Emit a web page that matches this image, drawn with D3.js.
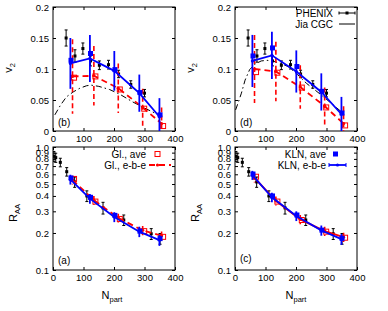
<!DOCTYPE html>
<html>
<head>
<meta charset="utf-8">
<script src="https://cdn.jsdelivr.net/npm/d3@7"></script>
<style>
body { margin: 0; background: #fff; }
text { font-family: "Liberation Sans", Arial, sans-serif; }
</style>
</head>
<body>
<svg id="chart" width="388" height="311"></svg>
<script>
// tick labels
var npartTicks = [0, 100, 200, 300, 400]
var v2Ticks = [0, 0.05, 0.1, 0.15, 0.2]
var raaTicks = [0.1, 0.2, 0.3, 0.4, 0.5, 0.6, 0.7, 0.8, 0.9, 1.0]

// PHENIX data
var phenixV2Npart = [43, 72, 98, 123, 152, 182, 215, 255, 300]
var phenixV2 = [0.150, 0.121, 0.133, 0.113, 0.106, 0.107, 0.092, 0.075, 0.061]
var phenixV2Err = [0.013, 0.010, 0.009, 0.008, 0.007, 0.007, 0.006, 0.006, 0.006]
var phenixRaaNpart = [3, 9, 24, 45, 71, 111, 164, 232, 322, 351]
var phenixRaa = [0.84, 0.82, 0.75, 0.63, 0.52, 0.40, 0.32, 0.255, 0.197, 0.18]
var phenixRaaErr = [0.08, 0.07, 0.06, 0.05, 0.05, 0.04, 0.035, 0.025, 0.02, 0.018]

// model centralities
var glNpart = [64, 134, 214, 294, 356]
var klnNpart = [57, 121, 201, 283, 349]

// panel (b)
var glEbeV2B = [0.088, 0.089, 0.069, 0.038, 0.012]
var glAveV2B = [0.086, 0.088, 0.067, 0.036, 0.008]
var glErrV2B = [0.06, 0.048, 0.04, 0.03, 0.026]
var klnEbeV2B = [0.109, 0.117, 0.097, 0.061, 0.023]
var klnAveV2B = [0.114, 0.125, 0.099, 0.062, 0.026]
var klnErrV2B = [0.041, 0.038, 0.032, 0.03, 0.03]
var jiaNpartB = [6, 25, 44, 66, 88, 110, 125, 150, 185, 220, 261, 300, 351]
var jiaV2B = [0.026, 0.042, 0.055, 0.063, 0.069, 0.073, 0.074, 0.072, 0.067, 0.059, 0.047, 0.037, 0.025]

// panel (d)
var glEbeV2D = [0.100, 0.096, 0.071, 0.040, 0.012]
var glAveV2D = [0.095, 0.094, 0.070, 0.038, 0.009]
var glErrV2D = [0.055, 0.048, 0.035, 0.03, 0.028]
var klnEbeV2D = [0.113, 0.122, 0.096, 0.063, 0.027]
var klnAveV2D = [0.121, 0.134, 0.104, 0.064, 0.029]
var klnErrV2D = [0.042, 0.038, 0.034, 0.03, 0.028]
var jiaNpartD = [2, 12, 21, 33, 48, 66, 86, 105, 122, 150, 174, 205, 234, 260, 283, 320, 351]
var jiaV2D = [0.034, 0.048, 0.061, 0.082, 0.099, 0.108, 0.113, 0.114, 0.113, 0.109, 0.104, 0.091, 0.077, 0.067, 0.058, 0.043, 0.030]

// panel (a)
var glEbeRaaA = [0.54, 0.37, 0.265, 0.21, 0.19]
var glAveRaaA = [0.55, 0.36, 0.26, 0.207, 0.186]
var glErrRaaA = [0.045, 0.03, 0.022, 0.018, 0.016]
var klnEbeRaaA = [0.545, 0.38, 0.27, 0.205, 0.175]
var klnAveRaaA = [0.56, 0.39, 0.278, 0.207, 0.18]
var klnErrRaaA = [0.05, 0.035, 0.025, 0.02, 0.018]

// panel (c)
var glEbeRaaC = [0.56, 0.365, 0.258, 0.207, 0.185]
var glAveRaaC = [0.573, 0.36, 0.255, 0.205, 0.183]
var glErrRaaC = [0.045, 0.03, 0.022, 0.018, 0.016]
var klnEbeRaaC = [0.59, 0.39, 0.275, 0.21, 0.178]
var klnAveRaaC = [0.603, 0.40, 0.28, 0.211, 0.181]
var klnErrRaaC = [0.05, 0.035, 0.025, 0.02, 0.018]

var red = "#ff0000", blue = "#0000ff"
var svg = d3.select("#chart")

function makePanel(xr, yr, logY) {
    var x = d3.scaleLinear().domain([0, 400]).range(xr)
    var y = logY ? d3.scaleLog().domain([0.1, 1]).range(yr)
                 : d3.scaleLinear().domain([0, 0.2]).range(yr)
    var g = svg.append("g")
    var ticksY = logY ? raaTicks : v2Ticks
    var fmtY = logY ? d3.format(".1f") : function(d) { return d3.format("")(d) }

    g.append("g").attr("transform", "translate(0," + yr[0] + ")")
        .call(d3.axisBottom(x).tickValues(npartTicks).tickSizeInner(-3).tickSizeOuter(0).tickPadding(4))
    g.append("g").attr("transform", "translate(0," + yr[1] + ")")
        .call(d3.axisTop(x).tickValues(npartTicks).tickSizeInner(-3).tickSizeOuter(0).tickFormat(""))
    g.append("g").attr("transform", "translate(" + xr[0] + ",0)")
        .call(d3.axisLeft(y).tickValues(ticksY).tickFormat(fmtY).tickSizeInner(-3).tickSizeOuter(0).tickPadding(4))
    g.append("g").attr("transform", "translate(" + xr[1] + ",0)")
        .call(d3.axisRight(y).tickValues(ticksY).tickSizeInner(-3).tickSizeOuter(0).tickFormat(""))
    g.selectAll(".domain").remove()
    g.selectAll("text").attr("font-size", 9.5).attr("font-family", "Liberation Sans, Arial, sans-serif").attr("fill", "#000")
    g.append("rect")
        .attr("x", xr[0]).attr("y", yr[1])
        .attr("width", xr[1] - xr[0]).attr("height", yr[0] - yr[1])
        .attr("fill", "none").attr("stroke", "#000").attr("stroke-width", 1)
    var clipId = "clip" + Math.round(xr[0]) + "_" + Math.round(yr[0])
    g.append("clipPath").attr("id", clipId).append("rect")
        .attr("x", xr[0]).attr("y", yr[1] - 1).attr("width", xr[1] - xr[0] + 6).attr("height", yr[0] - yr[1] + 2)
    var data = g.append("g").attr("clip-path", "url(#" + clipId + ")")
    return { x: x, y: y, g: g, plot: data }
}

function errorBars(p, npart, vals, errs, color, width, dash, cap) {
    var lo = function(i) { return Math.max(vals[i] - errs[i], p.y.domain()[0]) }
    p.plot.selectAll(null).data(npart).enter().append("line")
        .attr("x1", function(d) { return p.x(d) }).attr("x2", function(d) { return p.x(d) })
        .attr("y1", function(d, i) { return p.y(vals[i] + errs[i]) })
        .attr("y2", function(d, i) { return p.y(lo(i)) })
        .attr("stroke", color).attr("stroke-width", width).attr("stroke-dasharray", dash)
    if (cap) {
        [1, -1].forEach(function(s) {
            p.plot.selectAll(null).data(npart).enter().append("line")
                .attr("x1", function(d) { return p.x(d) - cap }).attr("x2", function(d) { return p.x(d) + cap })
                .attr("y1", function(d, i) { return s > 0 ? p.y(vals[i] + errs[i]) : p.y(lo(i)) })
                .attr("y2", function(d, i) { return s > 0 ? p.y(vals[i] + errs[i]) : p.y(lo(i)) })
                .attr("stroke", color).attr("stroke-width", 1)
        })
    }
}

function curve(p, npart, vals, color, width, dash) {
    var line = d3.line().x(function(d) { return p.x(d[0]) }).y(function(d) { return p.y(d[1]) })
    p.plot.append("path").datum(npart.map(function(n, i) { return [n, vals[i]] }))
        .attr("d", line).attr("fill", "none")
        .attr("stroke", color).attr("stroke-width", width).attr("stroke-dasharray", dash)
}

function squares(p, npart, vals, color, size, open) {
    p.plot.selectAll(null).data(npart).enter().append("rect")
        .attr("x", function(d) { return p.x(d) - size / 2 })
        .attr("y", function(d, i) { return p.y(vals[i]) - size / 2 })
        .attr("width", size).attr("height", size)
        .attr("fill", open ? "none" : color)
        .attr("stroke", open ? color : "none").attr("stroke-width", 1)
}

function dots(p, npart, vals, color, r) {
    p.plot.selectAll(null).data(npart).enter().append("circle")
        .attr("cx", function(d) { return p.x(d) }).attr("cy", function(d, i) { return p.y(vals[i]) })
        .attr("r", r).attr("fill", color)
}

function shift(arr, dx) { return arr.map(function(d) { return d + dx }) }

function drawModels(p, glE, glA, glErr, kE, kA, kErr, glDash) {
    errorBars(p, glNpart, glE, glErr, red, 1.6, "5,3", 0)
    curve(p, glNpart, glE, red, 1.8, glDash)
    dots(p, glNpart, glE, red, 1.6)
    squares(p, shift(glNpart, 5), glA, red, 5, true)
    errorBars(p, klnNpart, kE, kErr, blue, 1.8, null, 0)
    curve(p, klnNpart, kE, blue, 1.8, null)
    dots(p, klnNpart, kE, blue, 1.6)
    squares(p, shift(klnNpart, 2), kA, blue, 5, false)
}

function phenix(p, npart, vals, errs) {
    errorBars(p, npart, vals, errs, "#000", 1, null, 1.5)
    squares(p, npart, vals, "#000", 3, false)
}

function panelLabel(p, txt, x, y) {
    p.g.append("text").attr("x", x).attr("y", y).attr("font-size", 10).text(txt)
}

function yTitle(x, y, main, sub) {
    var t = svg.append("text").attr("transform", "translate(" + x + "," + y + ") rotate(-90)")
        .attr("text-anchor", "middle").attr("font-size", 11)
    t.append("tspan").text(main)
    t.append("tspan").attr("font-size", 7.5).attr("dy", 3).text(sub)
}

function xTitle(x, y) {
    var t = svg.append("text").attr("x", x).attr("y", y).attr("text-anchor", "middle").attr("font-size", 11)
    t.append("tspan").text("N")
    t.append("tspan").attr("font-size", 7.5).attr("dy", 3).text("part")
}

// panels
var pB = makePanel([53, 175], [131, 7], false)
var pD = makePanel([235, 357], [131, 7], false)
var pA = makePanel([53, 175], [270, 147], true)
var pC = makePanel([235, 357], [270, 147], true)

curve(pB, jiaNpartB, jiaV2B, "#000", 1, "6,3,1.5,3")
phenix(pB, phenixV2Npart, phenixV2, phenixV2Err)
drawModels(pB, glEbeV2B, glAveV2B, glErrV2B, klnEbeV2B, klnAveV2B, klnErrV2B, "6,4")

curve(pD, jiaNpartD, jiaV2D, "#000", 1, "6,3,1.5,3")
phenix(pD, phenixV2Npart, phenixV2, phenixV2Err)
drawModels(pD, glEbeV2D, glAveV2D, glErrV2D, klnEbeV2D, klnAveV2D, klnErrV2D, "6,4")

phenix(pA, phenixRaaNpart, phenixRaa, phenixRaaErr)
drawModels(pA, glEbeRaaA, glAveRaaA, glErrRaaA, klnEbeRaaA, klnAveRaaA, klnErrRaaA, "6,4")

phenix(pC, phenixRaaNpart, phenixRaa, phenixRaaErr)
drawModels(pC, glEbeRaaC, glAveRaaC, glErrRaaC, klnEbeRaaC, klnAveRaaC, klnErrRaaC, null)

panelLabel(pB, "(b)", 58, 126)
panelLabel(pD, "(d)", 240, 126)
panelLabel(pA, "(a)", 58, 264)
panelLabel(pC, "(c)", 240, 262)

yTitle(12, 68, "v", "2")
yTitle(194, 68, "v", "2")
yTitle(17, 213, "R", "AA")
yTitle(199, 213, "R", "AA")
xTitle(112, 299)
xTitle(296, 299)

// legends
function legendText(x, y, txt) {
    svg.append("text").attr("x", x).attr("y", y).attr("text-anchor", "end")
        .attr("font-size", 10).attr("dy", "0.35em").text(txt)
}
legendText(333, 13, "PHENIX")
svg.append("line").attr("x1", 339).attr("x2", 355).attr("y1", 13).attr("y2", 13).attr("stroke", "#000")
svg.append("line").attr("x1", 339).attr("x2", 339).attr("y1", 11.5).attr("y2", 14.5).attr("stroke", "#000")
svg.append("line").attr("x1", 355).attr("x2", 355).attr("y1", 11.5).attr("y2", 14.5).attr("stroke", "#000")
svg.append("rect").attr("x", 345.5).attr("y", 11.5).attr("width", 3).attr("height", 3).attr("fill", "#000")
legendText(333, 24, "Jia CGC")
svg.append("line").attr("x1", 339).attr("x2", 355).attr("y1", 24).attr("y2", 24).attr("stroke", "#000")

legendText(146, 154, "Gl., ave")
svg.append("rect").attr("x", 155).attr("y", 151.5).attr("width", 5).attr("height", 5)
    .attr("fill", "none").attr("stroke", red)
legendText(146, 165, "Gl., e-b-e")
svg.append("line").attr("x1", 149).attr("x2", 171).attr("y1", 165).attr("y2", 165)
    .attr("stroke", red).attr("stroke-width", 1.8).attr("stroke-dasharray", "6,4")
svg.append("circle").attr("cx", 157.5).attr("cy", 165).attr("r", 1.6).attr("fill", red)

legendText(326, 154, "KLN, ave")
svg.append("rect").attr("x", 333).attr("y", 151.5).attr("width", 5).attr("height", 5).attr("fill", blue)
legendText(326, 165, "KLN, e-b-e")
svg.append("line").attr("x1", 329).attr("x2", 346).attr("y1", 165).attr("y2", 165)
    .attr("stroke", blue).attr("stroke-width", 1.8)
svg.append("line").attr("x1", 329).attr("x2", 329).attr("y1", 163).attr("y2", 167).attr("stroke", blue)
svg.append("line").attr("x1", 346).attr("x2", 346).attr("y1", 163).attr("y2", 167).attr("stroke", blue)
svg.append("circle").attr("cx", 337.5).attr("cy", 165).attr("r", 1.6).attr("fill", blue)
</script>
</body>
</html>
